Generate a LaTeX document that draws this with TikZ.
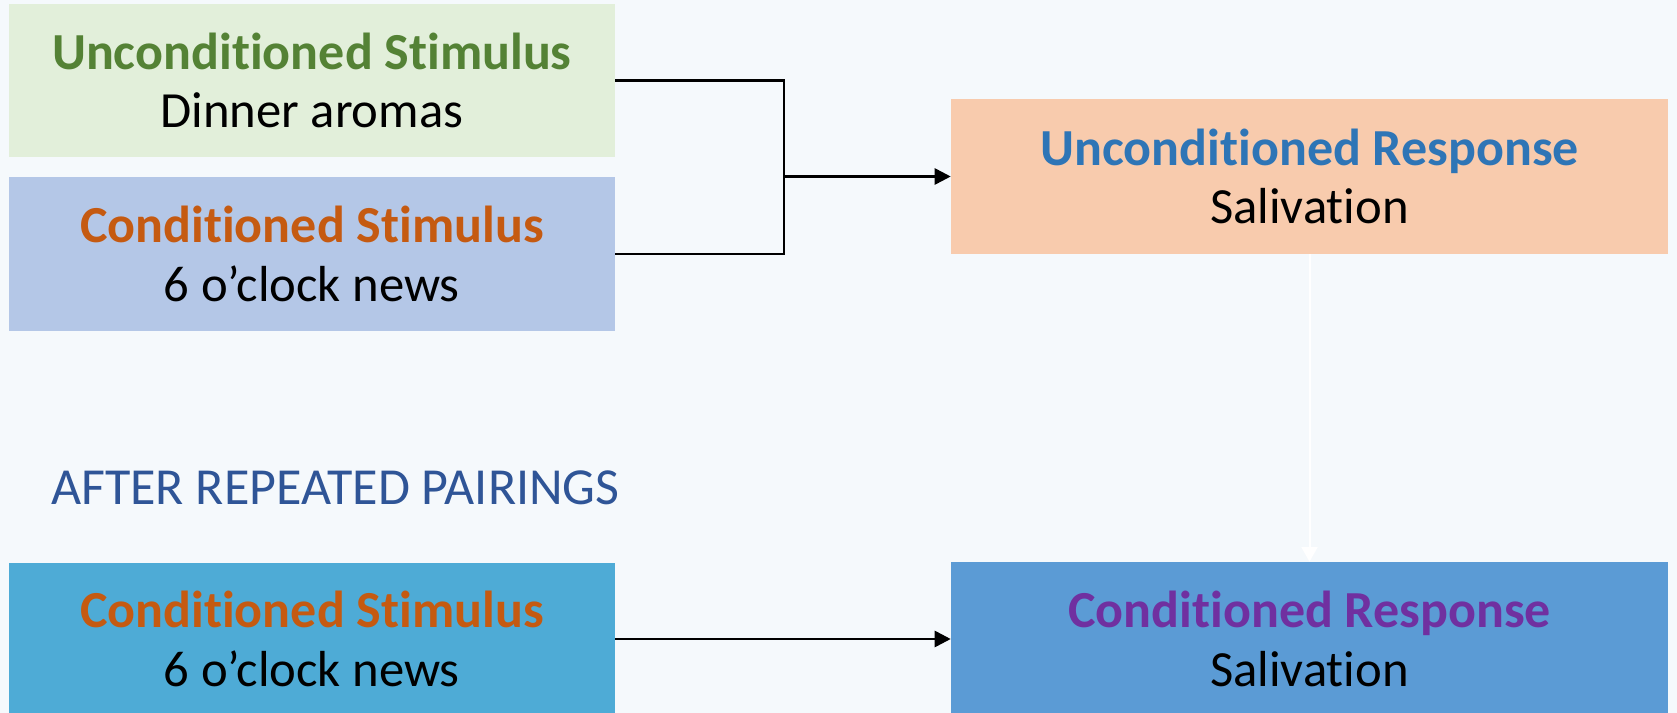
\documentclass[tikz,border=0pt]{standalone}
\usepackage{fontspec}
\setmainfont{Carlito}[RawFeature=-liga]
\usetikzlibrary{arrows.meta}
\definecolor{bgc}{HTML}{F5F9FC}
\definecolor{usfill}{HTML}{E2EFDA}
\definecolor{csfill}{HTML}{B4C7E7}
\definecolor{urfill}{HTML}{F8CBAD}
\definecolor{csbfill}{HTML}{4EABD6}
\definecolor{crfill}{HTML}{5B9BD5}
\definecolor{tgreen}{HTML}{548235}
\definecolor{torange}{HTML}{C55A11}
\definecolor{tblue}{HTML}{2E75B6}
\definecolor{tpurple}{HTML}{7030A0}
\definecolor{tafter}{HTML}{2F5597}
\newcommand{\ttl}[2]{\textcolor{#1}{\fontsize{39}{44}\selectfont\bfseries #2}}
\tikzset{
  box/.style={rectangle, inner sep=0pt, align=center, font=\fontsize{38}{44}\selectfont},
  leftbox/.style={box, minimum width=454.5pt, minimum height=114.75pt},
  rightbox/.style={box, minimum width=537.75pt, minimum height=115.5pt},
  conn/.style={line width=2pt, black},
  arr/.style={conn, -{Triangle[length=12pt,width=12pt]}},
  warr/.style={line width=1.5pt, white, -{Triangle[length=11pt,width=12pt]}}
}
\begin{document}
\begin{tikzpicture}[x=0.75pt,y=-0.75pt]
\useasboundingbox (0,0) rectangle (1677,713);
\fill[bgc] (0,0) rectangle (1677,713);
\node[leftbox, fill=usfill] (US) at (311.8,80.6) {\ttl{tgreen}{Unconditioned Stimulus}\\Dinner aromas};
\node[leftbox, fill=csfill] (CS) at (311.8,254) {\ttl{torange}{Conditioned Stimulus}\\6 o’clock news};
\node[rightbox, fill=urfill] (UR) at (1309.5,176.5) {\ttl{tblue}{Unconditioned Response}\\Salivation};
\node[anchor=west, inner sep=0pt, text=tafter, font=\fontsize{39}{44}\selectfont] (AF) at (51,488) {AFTER REPEATED PAIRINGS};
\node[leftbox, fill=csbfill] (CSB) at (311.8,639) {\ttl{torange}{Conditioned Stimulus}\\6 o’clock news};
\node[rightbox, fill=crfill] (CR) at (1309.5,639) {\ttl{tpurple}{Conditioned Response}\\Salivation};
\coordinate (J) at (784,176.5);
\draw[conn] (US.east) -| (J) |- (CS.east);
\draw[arr] (J) -- (UR.west);
\draw[arr] (CSB.east) -- (CR.west);
\draw[warr] (UR.south) -- (CR.north);
\end{tikzpicture}
\end{document}
